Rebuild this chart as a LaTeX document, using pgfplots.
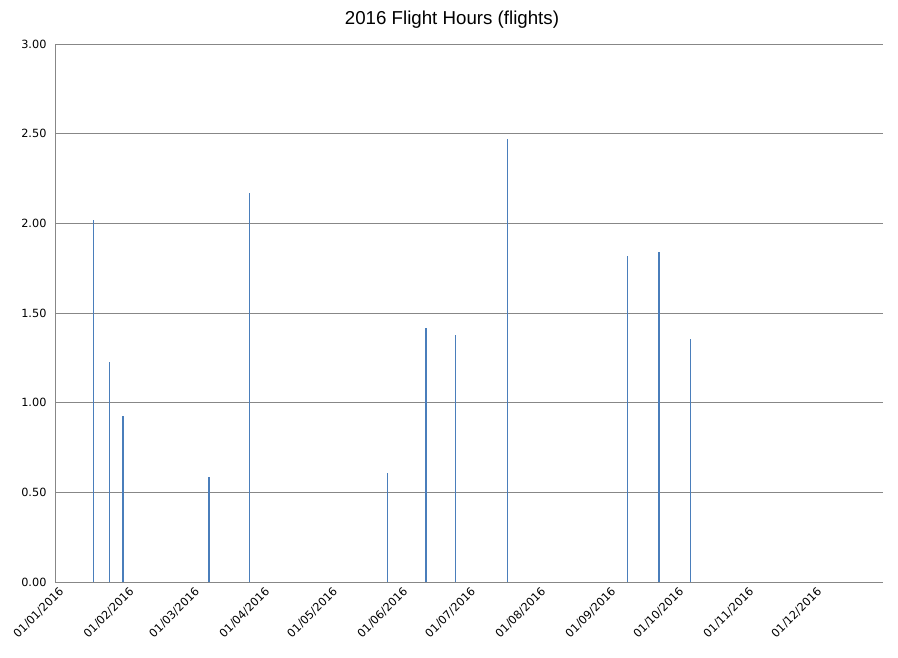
\documentclass[border=0pt]{standalone}
\usepackage{pgfplots}
\pgfplotsset{compat=1.18}
\usepackage{fontspec}
\setmainfont{DejaVu Sans}
\newfontfamily\titlefont{Liberation Sans}
\definecolor{barblue}{HTML}{4A7EBB}
\definecolor{gridgray}{HTML}{878787}
\begin{document}
\begin{tikzpicture}[x=1pt,y=1pt]
\path[use as bounding box] (0,0) rectangle (898,657);
\node[font=\titlefont\fontsize{18.7}{21}\selectfont] at (452,637) {2016 Flight Hours (flights)};
\begin{axis}[
  at={(55pt,75pt)}, anchor=south west,
  scale only axis, width=828pt, height=538pt,
  xmin=0, xmax=366, ymin=0, ymax=3,
  axis lines*=left,
  axis line style={gridgray, line width=1pt},
  ymajorgrids, grid style={gridgray, line width=1pt},
  ytick={0,0.5,1,1.5,2,2.5,3},
  yticklabel style={/pgf/number format/fixed, /pgf/number format/fixed zerofill, /pgf/number format/precision=2, font=\fontsize{11.3}{13}\selectfont, xshift=-5pt},
  /pgf/number format/assume math mode=true,
  xtick={0,31,60,91,121,152,182,213,244,274,305,335},
  xticklabels={01/01/2016,01/02/2016,01/03/2016,01/04/2016,01/05/2016,01/06/2016,01/07/2016,01/08/2016,01/09/2016,01/10/2016,01/11/2016,01/12/2016},
  xticklabel style={rotate=45, anchor=east, font=\fontsize{11.3}{13}\selectfont, xshift=3pt, yshift=-10pt},
  major tick length=0pt,
  tick style={draw=none},
  clip=false,
]
\addplot[ycomb, barblue, line width=1.4pt, mark=none] coordinates {
(17,2.02) (24,1.228) (30,0.927) (68,0.587) (86,2.17) (147,0.609) (164,1.417) (177,1.378) (200,2.471) (253,1.819) (267,1.841) (281,1.356)
};
\end{axis}
\end{tikzpicture}
\end{document}
